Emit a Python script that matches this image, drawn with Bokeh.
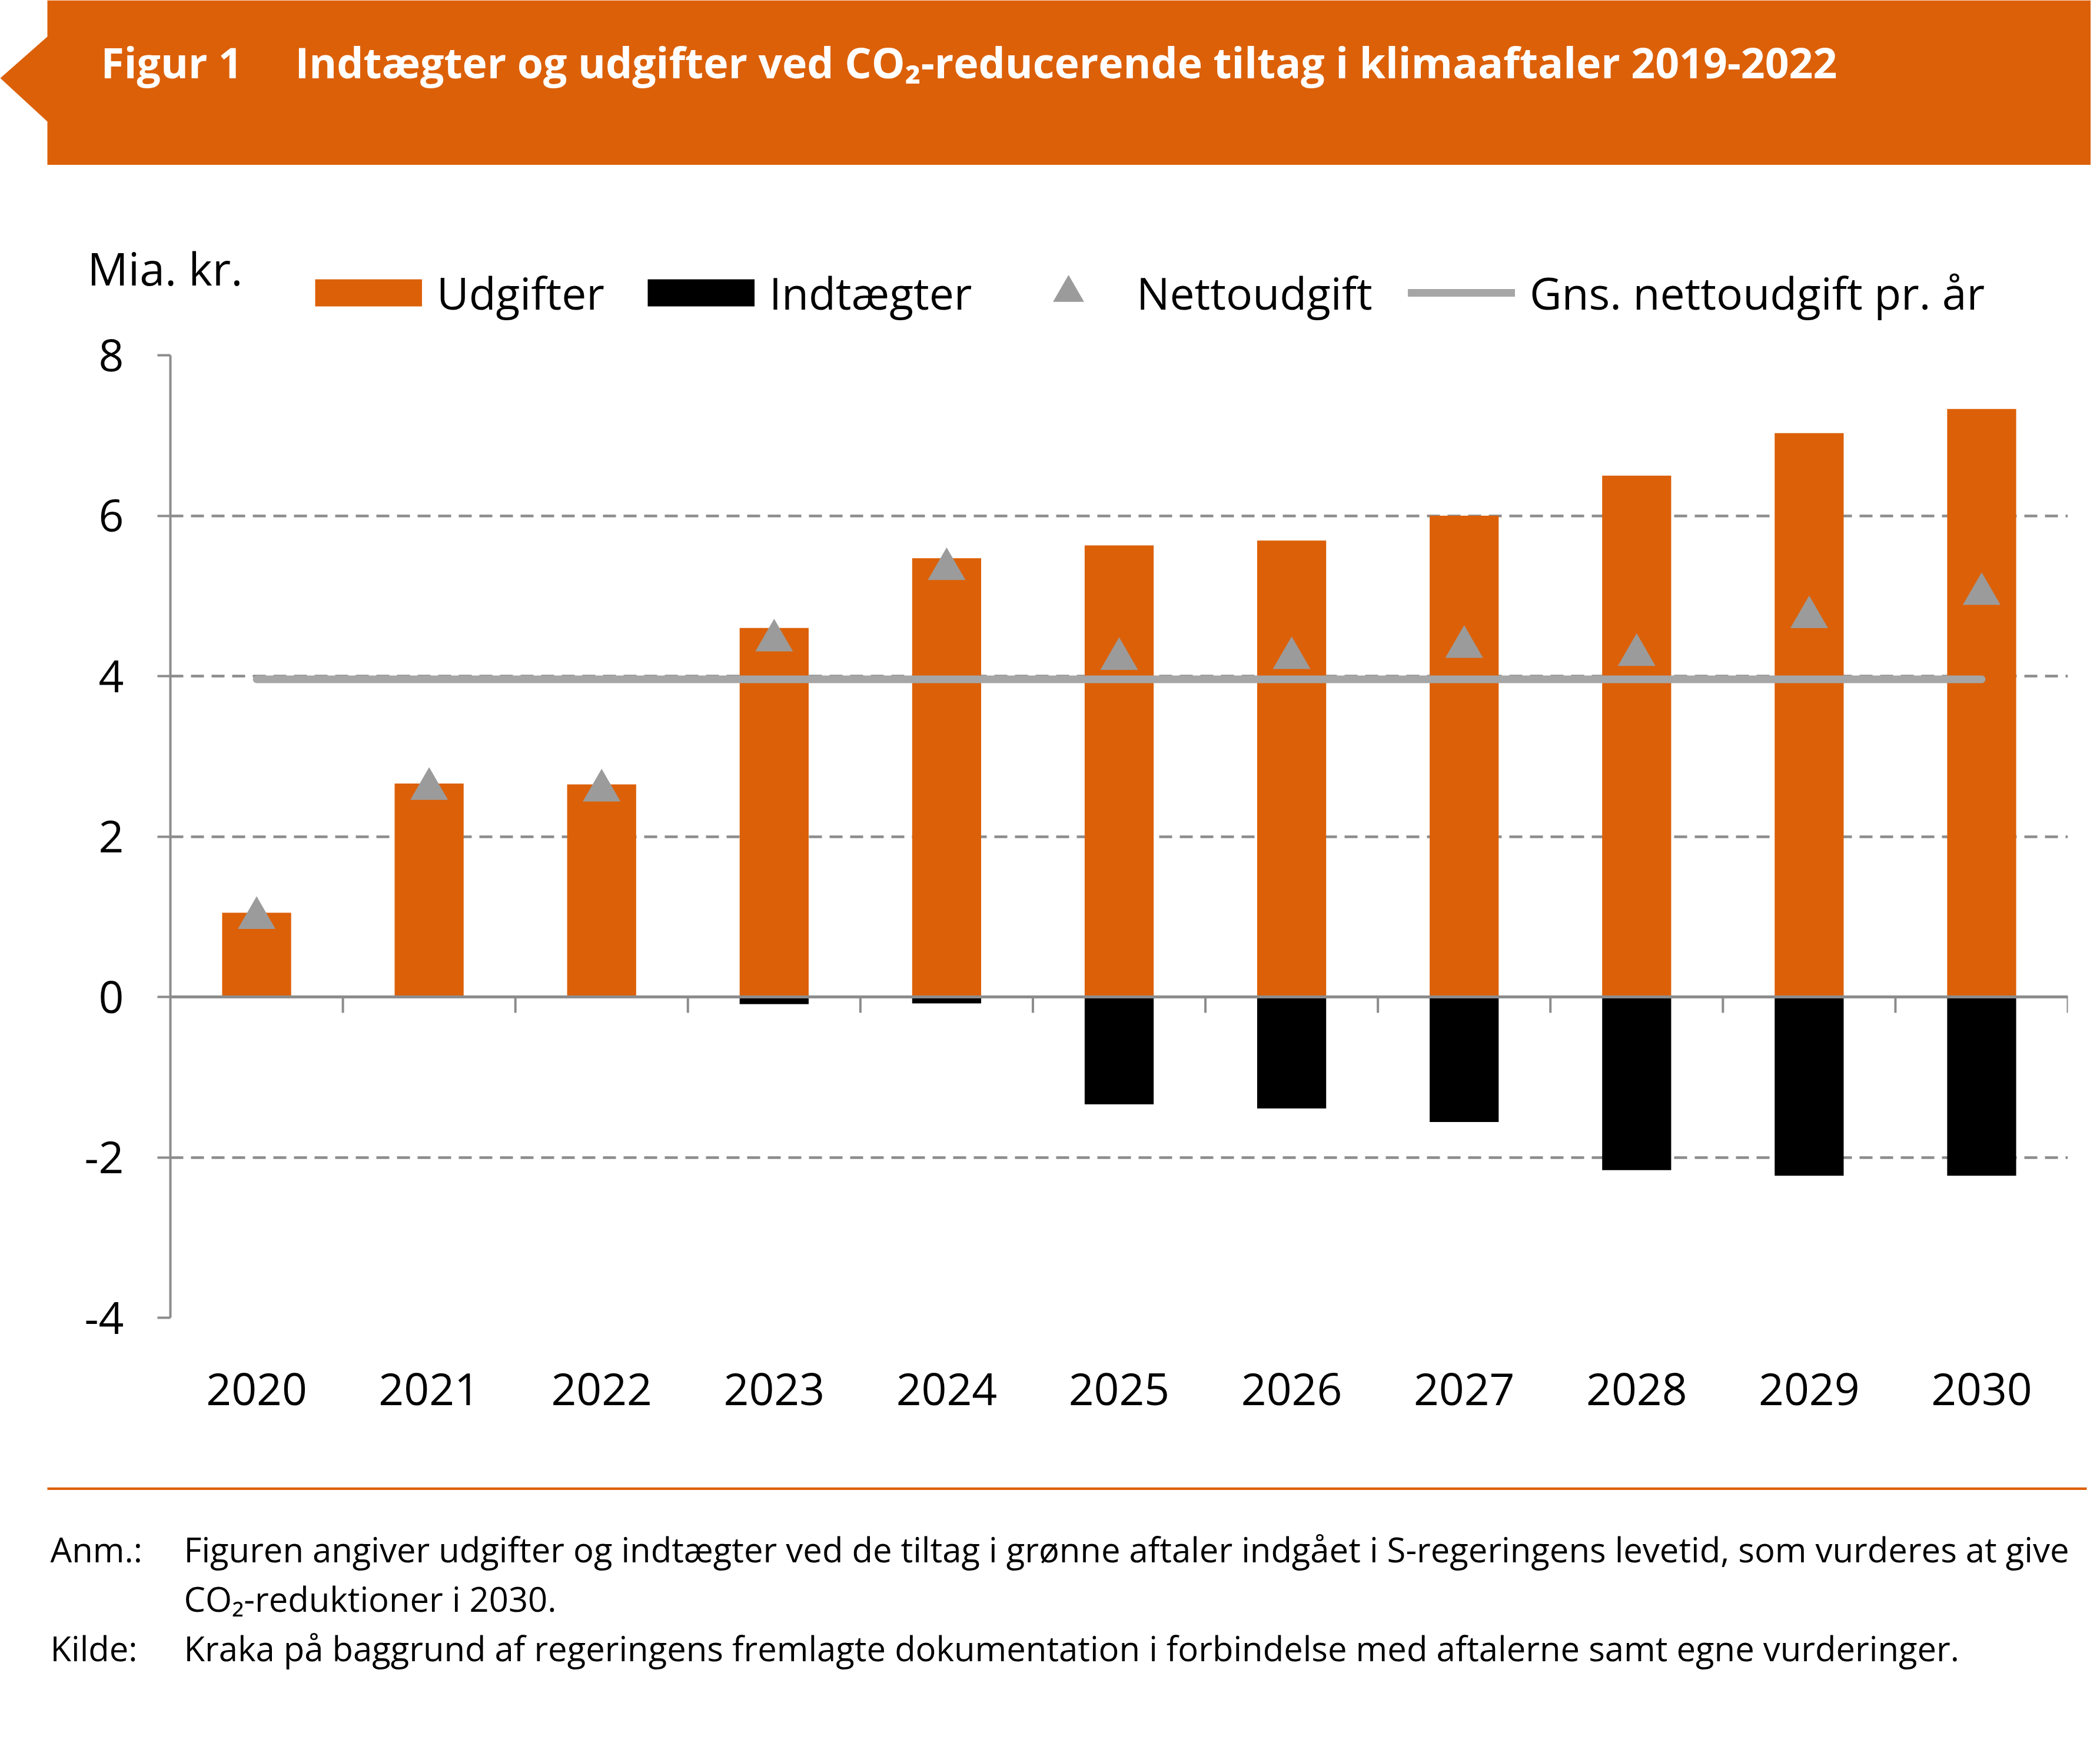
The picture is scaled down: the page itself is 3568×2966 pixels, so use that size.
from bokeh.plotting import figure
from bokeh.models import (ColumnDataSource, Range1d, FactorRange, Legend, LegendItem,
                          Label, Span, FixedTicker)
from bokeh.layouts import column
from bokeh.embed import file_html
from bokeh.resources import INLINE
from bokeh.transform import dodge

# ---------------- data ----------------
years = ["2020", "2021", "2022", "2023", "2024", "2025", "2026", "2027", "2028", "2029", "2030"]
udgifter = [1.05, 2.66, 2.65, 4.60, 5.47, 5.63, 5.69, 6.00, 6.50, 7.03, 7.33]
indtaegter = [0.0, 0.0, 0.0, -0.09, -0.08, -1.34, -1.39, -1.56, -2.16, -2.23, -2.23]
nettoudgift = [1.05, 2.66, 2.64, 4.51, 5.40, 4.28, 4.29, 4.43, 4.33, 4.80, 5.09]
gns_nettoudgift = [3.96, 3.96, 3.96, 3.96, 3.96, 3.96, 3.96, 3.96, 3.96, 3.96, 3.96]
y_ticks = [-4, -2, 0, 2, 4, 6, 8]

series_labels = ["Udgifter", "Indtægter", "Nettoudgift", "Gns. nettoudgift pr. år"]
title_num = "Figur 1"
title_txt = "Indtægter og udgifter ved CO\u2082-reducerende tiltag i klimaaftaler 2019-2022"
unit_txt = "Mia. kr."
note_lbl = "Anm.:"
note_1 = "Figuren angiver udgifter og indtægter ved de tiltag i grønne aftaler indgået i S-regeringens levetid, som vurderes at give"
note_2 = "CO\u2082-reduktioner i 2030."
src_lbl = "Kilde:"
src_txt = "Kraka på baggrund af regeringens fremlagte dokumentation i forbindelse med aftalerne samt egne vurderinger."

# ---------------- style ----------------
ORANGE = "#DC6008"
GRAY = "#8C8C8C"
TRI = "#9B9B9B"
AVG = "#A6A6A6"
FONT = "Open Sans"
W = 3552


def pixel_fig(h):
    f = figure(width=W, height=h, x_range=Range1d(0, W), y_range=Range1d(h, 0),
               output_backend="svg", toolbar_location=None, min_border=0,
               x_axis_location=None, y_axis_location=None, frame_align=False)
    f.grid.visible = False
    f.outline_line_color = None
    return f


# ---------------- header ----------------
HH = 298
hdr = pixel_fig(HH)
hdr.patch(x=[80, W, W, 80, 80, 0, 80], y=[0, 0, 279.5, 279.5, 206, 132.3, 61.7],
          fill_color=ORANGE, line_color=None)
hdr.add_layout(Label(x=171, y=105, text=title_num, text_font=FONT, text_font_size="71.5px",
                     text_font_style="bold", text_color="white", text_baseline="alphabetic"))
hdr.add_layout(Label(x=501, y=105, text=title_txt, text_font=FONT, text_font_size="71.5px",
                     text_font_style="bold", text_color="white", text_baseline="alphabetic"))

# ---------------- legend strip ----------------
LH = 250
lg = pixel_fig(LH)
lg.add_layout(Label(x=148, y=157, text=unit_txt, text_font=FONT, text_font_size="77px",
                    text_color="black", text_baseline="alphabetic"))
OFF = [-900, -800]
k_udg = lg.line(x=OFF, y=OFF, line_width=46, line_color=ORANGE, line_cap="butt")
k_ind = lg.line(x=OFF, y=OFF, line_width=46, line_color="black", line_cap="butt")
k_net = lg.scatter(x=OFF, y=OFF, marker="triangle", fill_color=TRI, line_color=None)
k_gns = lg.line(x=OFF, y=OFF, line_width=13, line_color=AVG, line_cap="round")

for lab, rend, xloc in zip(series_labels, [k_udg, k_ind, k_net, k_gns], [535, 1100, 1724, 2392]):
    leg = Legend(items=[LegendItem(label=lab, renderers=[rend])], location=(xloc, -15),
                 orientation="horizontal", glyph_width=182, glyph_height=132, label_height=132,
                 label_standoff=25, padding=0, margin=0, spacing=0,
                 border_line_color=None, background_fill_alpha=0,
                 label_text_font=FONT, label_text_font_size="75px", label_text_color="black")
    lg.add_layout(leg)

# ---------------- chart ----------------
CH = 1947
p = figure(width=W, height=CH, x_range=FactorRange(*years, range_padding=0),
           y_range=Range1d(-4, 8), output_backend="svg", toolbar_location=None,
           min_border_left=289, min_border_right=39, min_border_top=55, min_border_bottom=257,
           frame_align=False)
p.outline_line_color = None
p.xgrid.grid_line_color = None
p.ygrid.ticker = FixedTicker(ticks=y_ticks)
p.ygrid.grid_line_color = GRAY
p.ygrid.grid_line_width = 4.5
p.ygrid.grid_line_dash = "22 13"

p.yaxis.ticker = FixedTicker(ticks=y_ticks)
p.yaxis.major_label_overrides = {t: str(t) for t in y_ticks}
p.yaxis.axis_line_color = GRAY
p.yaxis.axis_line_width = 4
p.yaxis.major_tick_line_color = GRAY
p.yaxis.major_tick_line_width = 4
p.yaxis.major_tick_in = 0
p.yaxis.major_tick_out = 22
p.yaxis.minor_tick_line_color = None
p.yaxis.major_label_standoff = 57
p.yaxis.major_label_text_font = FONT
p.yaxis.major_label_text_font_size = "75px"
p.yaxis.major_label_text_color = "black"

p.xaxis.axis_line_color = None
p.xaxis.major_tick_line_color = None
p.xaxis.minor_tick_line_color = None
p.xaxis.major_label_standoff = 88
p.xaxis.major_label_text_font = FONT
p.xaxis.major_label_text_font_size = "75px"
p.xaxis.major_label_text_color = "black"

src = ColumnDataSource(dict(year=years, udg=udgifter, indt=indtaegter,
                            net=nettoudgift, gns=gns_nettoudgift))

p.vbar(x="year", top="udg", bottom=0, width=0.4, fill_color=ORANGE, line_color=None, source=src)
p.vbar(x="year", top=0, bottom="indt", width=0.4, fill_color="black", line_color=None, source=src)

p.add_layout(Span(location=0, dimension="width", line_color=GRAY, line_width=5))
p.segment(x0=[(y, 0.5) for y in years], y0=0, x1=[(y, 0.5) for y in years], y1=-0.198,
          line_color=GRAY, line_width=4)

p.line(x="year", y="gns", line_width=13, line_color=AVG, line_cap="round", source=src)
p.scatter(x="year", y=dodge("net", -0.067), marker="triangle", size=64,
          fill_color=TRI, line_color=None, source=src)

# ---------------- footer ----------------
FH = 455
ftr = pixel_fig(FH)
ftr.quad(left=80, right=3545, top=31.3, bottom=35.6, fill_color=ORANGE, line_color=None)
for (xx, yy, tt) in [(85, 135.5, note_lbl), (312, 135.5, note_1), (312, 220, note_2),
                     (85, 303.6, src_lbl), (312, 303.6, src_txt)]:
    ftr.add_layout(Label(x=xx, y=yy, text=tt, text_font=FONT, text_font_size="58px",
                         text_color="black", text_baseline="alphabetic"))

layout = column(hdr, lg, p, ftr, spacing=0)
open("out.html", "w").write(file_html(layout, INLINE))
